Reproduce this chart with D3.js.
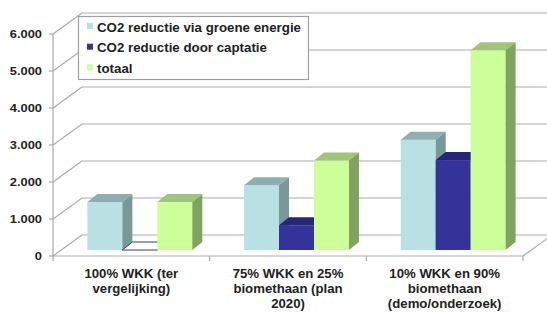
<!DOCTYPE html>
<html>
<head>
  <style type="text/css">
    body { margin: 0; background: #fff; }
    svg text { font-family: "Liberation Sans", Arial, sans-serif; font-weight: bold; fill: #222; }
    .grid line { stroke: #ababab; stroke-width: 1.2; }
  </style>
</head>
<body>
<svg></svg>
<script src="https://d3js.org/d3.v7.min.js"></script>
<script>
    var width = 547;
    var height = 312;

    /* chart data */
    var categories = [
      ["100% WKK (ter", "vergelijking)"],
      ["75% WKK en 25%", "biomethaan (plan", "2020)"],
      ["10% WKK en 90%", "biomethaan", "(demo/onderzoek)"]
    ];
    var seriesNames = ["CO2 reductie via groene energie", "CO2 reductie door captatie", "totaal"];
    var groeneEnergie = [1300, 1750, 2980];
    var captatie = [0, 670, 2430];
    var totaal = [1300, 2420, 5400];
    var yTicks = [0, 1000, 2000, 3000, 4000, 5000, 6000];

    var series = [groeneEnergie, captatie, totaal];
    // front, top, side shades per series
    var colors = [
      {front: "#b9e1e3", top: "#8eaeaf", side: "#789899"},
      {front: "#333399", top: "#262677", side: "#1f1f60"},
      {front: "#ccff99", top: "#9fc47a", side: "#80a360"}
    ];

    var svg = d3.select('svg')
      .attr('width', width)
      .attr('height', height);

    var left = 53, right = 523, bottom = 256;
    var wallDx = 29, wallDy = -21;      // depth of the floor / walls
    var barOx = 8.5, barOy = -6;        // offset of bar front face
    var barDx = 10, barDy = -8;         // bar depth

    var y = d3.scaleLinear().domain([0, 6000]).range([bottom, 34]);
    var x = d3.scaleBand().domain(d3.range(categories.length)).range([left, right]);
    var xs = d3.scaleBand().domain(d3.range(series.length))
      .range([0, x.bandwidth()]).paddingOuter(0.74);

    var fmt = d3.formatLocale({decimal: ",", thousands: ".", grouping: [3], currency: ["", ""]}).format(",");

    /* walls */
    var grid = svg.append('g').attr('class', 'grid');
    grid.selectAll('line.back')
      .data(yTicks)
      .enter().append('line')
      .attr('x1', left + wallDx).attr('x2', right + wallDx + 10)
      .attr('y1', function(d) { return y(d) + wallDy; })
      .attr('y2', function(d) { return y(d) + wallDy; });
    grid.selectAll('line.side')
      .data(yTicks)
      .enter().append('line')
      .attr('x1', left).attr('x2', left + wallDx)
      .attr('y1', function(d) { return y(d); })
      .attr('y2', function(d) { return y(d) + wallDy; });
    // floor
    grid.append('line')
      .attr('x1', left).attr('x2', right)
      .attr('y1', y(0)).attr('y2', y(0));
    grid.append('line')
      .attr('x1', right).attr('x2', right + wallDx)
      .attr('y1', y(0)).attr('y2', y(0) + wallDy);
    // axis
    grid.append('line')
      .attr('x1', left).attr('x2', left)
      .attr('y1', y(6000)).attr('y2', y(0));
    grid.selectAll('line.tick')
      .data(yTicks)
      .enter().append('line')
      .attr('x1', left - 4).attr('x2', left)
      .attr('y1', function(d) { return y(d); })
      .attr('y2', function(d) { return y(d); });
    grid.selectAll('line.ctick')
      .data(d3.range(categories.length + 1))
      .enter().append('line')
      .attr('x1', function(i) { return left + i * x.step(); })
      .attr('x2', function(i) { return left + i * x.step(); })
      .attr('y1', y(0)).attr('y2', y(0) + 5);

    svg.append('g').selectAll('g')
      .data(yTicks)
      .enter().append('g')
      .attr('transform', function(d) { return 'translate(42,' + (y(d) + 4) + ') scale(1.12,1)'; })
      .append('text')
      .attr('text-anchor', 'end')
      .attr('font-size', 11.5)
      .text(function(d) { return fmt(d); });

    /* bars */
    var bars = svg.append('g');
    categories.forEach(function(c, ci) {
      series.forEach(function(s, si) {
        var v = s[ci];
        var col = colors[si];
        var x0 = x(ci) + xs(si) + barOx;
        var w = xs.bandwidth();
        var y0 = y(0) + barOy;
        var yt = y(v) + barOy;
        if (v === 0) {
          bars.append('polygon')
            .attr('points', [[x0, y0], [x0 + w, y0], [x0 + w + barDx, y0 + barDy], [x0 + barDx, y0 + barDy]].join(' '))
            .attr('fill', '#fff').attr('stroke', col.front).attr('stroke-width', 1);
          return;
        }
        bars.append('rect')
          .attr('x', x0).attr('y', yt)
          .attr('width', w).attr('height', y0 - yt)
          .attr('fill', col.front);
        bars.append('polygon')
          .attr('points', [[x0, yt], [x0 + w, yt], [x0 + w + barDx, yt + barDy], [x0 + barDx, yt + barDy]].join(' '))
          .attr('fill', col.top);
        bars.append('polygon')
          .attr('points', [[x0 + w, yt], [x0 + w + barDx, yt + barDy], [x0 + w + barDx, y0 + barDy], [x0 + w, y0]].join(' '))
          .attr('fill', col.side);
      });
    });

    /* category labels */
    var cat = svg.append('g').selectAll('g')
      .data(categories)
      .enter().append('g');
    cat.each(function(lines, ci) {
      var g = d3.select(this);
      lines.forEach(function(t, li) {
        g.append('g')
          .attr('transform', 'translate(' + (x(ci) + x.bandwidth() / 2) + ',' + (277.5 + li * 15) + ') scale(1.1,1)')
          .append('text')
          .attr('text-anchor', 'middle')
          .attr('font-size', 12)
          .text(t);
      });
    });

    /* legend */
    var legend = svg.append('g');
    legend.append('rect')
      .attr('x', 78.5).attr('y', 16.5)
      .attr('width', 230).attr('height', 63)
      .attr('fill', '#fff').attr('stroke', '#a0a0a0').attr('stroke-width', 1.2);
    var item = legend.selectAll('g.item')
      .data(seriesNames)
      .enter().append('g')
      .attr('transform', function(d, i) { return 'translate(0,' + (i * 20.7) + ')'; });
    item.append('rect')
      .attr('x', 87).attr('y', 23)
      .attr('width', 6).attr('height', 6)
      .attr('fill', function(d, i) { return colors[i].front; });
    item.append('g')
      .attr('transform', 'translate(97,31.5) scale(1.11,1)')
      .append('text')
      .attr('font-size', 12)
      .text(function(d) { return d; });
  </script>
</body>
</html>
